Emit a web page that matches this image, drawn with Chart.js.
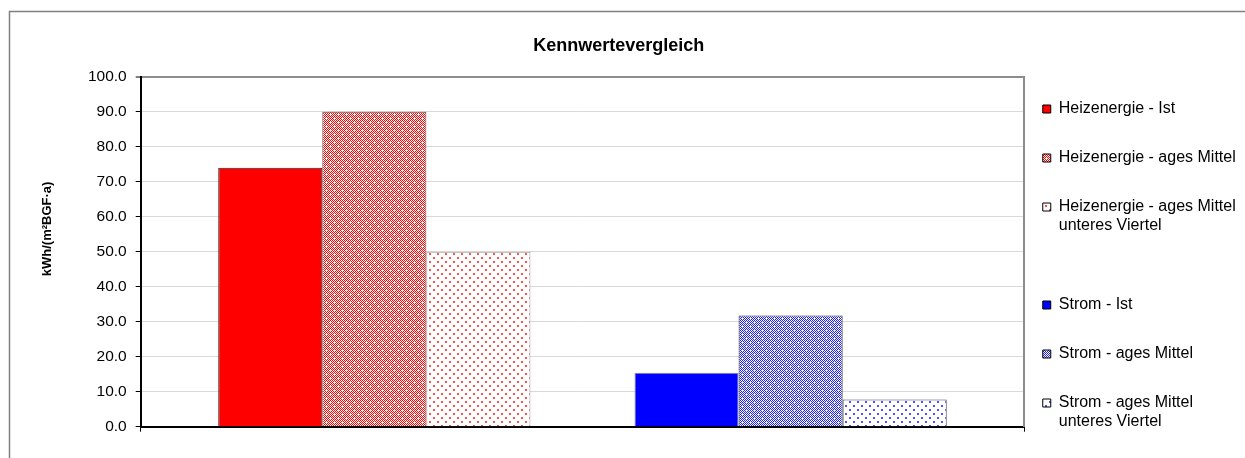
<!DOCTYPE html>
<html>
<head>
<meta charset="utf-8">
<script src="https://cdn.jsdelivr.net/npm/chart.js@4.4.1/dist/chart.umd.min.js"></script>
<style>
    html, body { margin: 0; padding: 0; background: #fff; }
</style>
</head>
<body>
<canvas id="chartKennwerte" width="1245" height="458"></canvas>
<script>
// values, kWh/(m²BGF·a)
var categories = [''];
var heizNames = [['Heizenergie - Ist', ''], ['Heizenergie - ages Mittel', ''], ['Heizenergie - ages Mittel', 'unteres Viertel']];
var heizValues = [74.0, 90.0, 50.0];
var stromNames = [['Strom - Ist', ''], ['Strom - ages Mittel', ''], ['Strom - ages Mittel', 'unteres Viertel']];
var stromValues = [15.4, 31.8, 7.8];
var yMin = 0, yMax = 100, yStep = 10;

var FONT = "'Liberation Sans', Arial, Helvetica, sans-serif";

// small pixel patterns like the excel fills
function makePattern(kind, color, mark) {
    var c = document.createElement('canvas');
    c.width = 8;
    c.height = 8;
    var g = c.getContext('2d');
    g.fillStyle = '#fff';
    g.fillRect(0, 0, 8, 8);
    g.fillStyle = color;
    if (kind === 'dense') {
        for (var y = 0; y < 8; y++) {
            for (var x = 0; x < 8; x++) {
                if ((x + y) % 2 === 0) g.fillRect(x, y, 1, 1);
            }
        }
        g.fillStyle = mark;
        [[2, 2], [6, 6]].forEach(function (p) {
            g.fillRect(p[0] - 1, p[1], 3, 1);
            g.fillRect(p[0], p[1] - 1, 1, 3);
        });
    } else {
        g.fillRect(1, 1, 2, 2);
        g.fillRect(5, 5, 2, 2);
    }
    return g.createPattern(c, 'repeat');
}

var heizFills = ['#ff0000', makePattern('dense', '#ff0000', '#ffffff'), makePattern('sparse', '#ff5050')];
var heizBorders = ['#222', '#555', '#999'];
var stromFills = ['#0000ff', makePattern('dense', '#2020ff', '#e8f0b0'), makePattern('sparse', '#5050ff')];
var stromBorders = ['#888', '#333', '#444'];

var datasets = [];
function addSeries(lines, value, fill, border) {
    datasets.push({
        label: lines.join(' '),
        legendLines: lines,
        data: [value],
        backgroundColor: fill,
        borderColor: border,
        borderWidth: 1,
        barPercentage: 1,
        categoryPercentage: 0.8245
    });
}
for (var i = 0; i < heizValues.length; i++) addSeries(heizNames[i], heizValues[i], heizFills[i], heizBorders[i]);
// empty series between the two groups (gap in bars and legend)
addSeries(['', ''], null, 'rgba(0,0,0,0)', 'rgba(0,0,0,0)');
for (var j = 0; j < stromValues.length; j++) addSeries(stromNames[j], stromValues[j], stromFills[j], stromBorders[j]);

var legendPad = 11.56;
var legendLeft = 1041.5 - legendPad;

var outerFrame = {
    id: 'outerFrame',
    beforeDraw: function (chart) {
        var c = chart.ctx;
        c.save();
        c.fillStyle = '#fff';
        c.fillRect(0, 0, chart.width, chart.height);
        c.strokeStyle = '#808080';
        c.lineWidth = 1.5;
        c.beginPath();
        c.moveTo(9.5, chart.height + 5);
        c.lineTo(9.5, 11.5);
        c.lineTo(chart.width + 5, 11.5);
        c.stroke();
        c.restore();
    }
};

var ctx = document.getElementById('chartKennwerte');
var myChart = new Chart(ctx, {
    type: 'bar',
    data: {
        labels: categories,
        datasets: datasets
    },
    options: {
        responsive: false,
        animation: false,
        devicePixelRatio: 1,
        layout: { padding: { left: 0, top: 0, right: 0, bottom: 0 } },
        plugins: {
            title: {
                display: true,
                text: 'Kennwertevergleich',
                color: '#000',
                font: { family: FONT, size: 18, weight: 'bold', lineHeight: 1.2 },
                padding: { top: 35.5, bottom: 19.6 }
            },
            legend: {
                position: 'right',
                align: 'start',
                title: { display: true, text: ' ', font: { size: 10, lineHeight: 1 }, padding: { top: 101 - legendPad - 10, bottom: 0 } },
                labels: {
                    boxWidth: 8,
                    boxHeight: 8,
                    padding: legendPad,
                    color: '#000',
                    font: { family: FONT, size: 16, lineHeight: 1.17 },
                    generateLabels: function (chart) {
                        return chart.data.datasets.map(function (ds, i) {
                            var blank = ds.legendLines[0] === '';
                            return {
                                text: ds.legendLines,
                                fillStyle: ds.backgroundColor,
                                strokeStyle: blank ? 'rgba(0,0,0,0)' : '#000',
                                lineWidth: blank ? 0 : 1,
                                hidden: false,
                                fontColor: '#000',
                                datasetIndex: i
                            };
                        });
                    }
                }
            },
            tooltip: { enabled: false }
        },
        scales: {
            x: {
                type: 'category',
                ticks: { display: false },
                grid: { drawOnChartArea: false, drawTicks: true, tickLength: 5, tickColor: '#000' },
                border: { display: true, color: '#000', width: 2 },
                afterFit: function (scale) { scale.height = 458 - 426.7; }
            },
            y: {
                min: yMin,
                max: yMax,
                ticks: {
                    stepSize: yStep,
                    color: '#000',
                    padding: 9,
                    font: { family: FONT, size: 15.5 },
                    callback: function (v) { return Number(v).toFixed(1); }
                },
                grid: {
                    color: function (c) { return c.tick && c.tick.value === yMax ? '#8c8c8c' : '#d9d9d9'; },
                    lineWidth: function (c) { return c.tick && c.tick.value === yMax ? 2 : 1; },
                    tickColor: '#000',
                    tickWidth: 1,
                    tickLength: 5
                },
                border: { display: true, color: '#000', width: 2 },
                title: {
                    display: true,
                    text: '\u2002\u2002\u2002\u2002\u2002\u2002\u2002kWh/(m²BGF·a)',
                    color: '#000',
                    font: { family: FONT, size: 13, weight: 'bold', lineHeight: 1.2 },
                    padding: { top: 39.7, bottom: 0 }
                },
                afterFit: function (scale) { scale.width = 140.7; }
            },
            y2: {
                type: 'linear',
                position: 'right',
                display: true,
                ticks: { display: false },
                grid: { display: false, drawTicks: false },
                border: { display: true, color: '#8c8c8c', width: 2 },
                afterFit: function (scale) { scale.width = legendLeft - 1023; }
            }
        }
    },
    plugins: [outerFrame]
});

// place the legend so its boxes sit where the reference has them
var padRight = 1245 - myChart.legend.width - legendLeft;
if (padRight < 0) {
    myChart.options.plugins.legend.maxWidth = 1245 - legendLeft;
    padRight = 0;
}
myChart.options.layout.padding.right = padRight;
myChart.update();
</script>
</body>
</html>
